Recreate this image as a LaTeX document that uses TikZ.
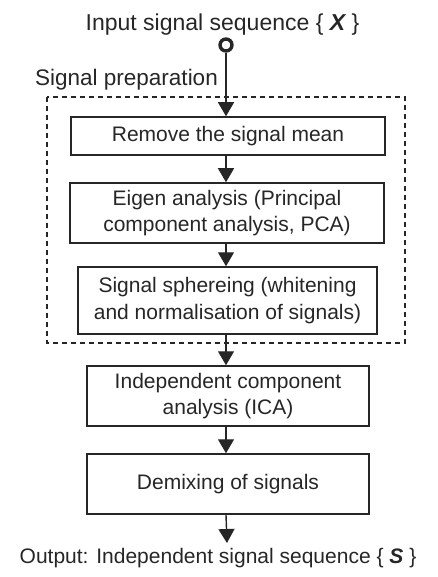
\documentclass[tikz,border=0pt]{standalone}
\usepackage{fontspec}
\setmainfont{Liberation Sans}
\usetikzlibrary{arrows.meta}
\definecolor{ink}{HTML}{262626}
\tikzset{
  box/.style={draw=ink, line width=1.5pt, text=ink, align=center, inner sep=0pt,
    font=\fontsize{21}{26.5}\selectfont},
  lbl/.style={text=ink, inner sep=0pt, font=\fontsize{21}{26}\selectfont},
  flow/.style={draw=ink, line width=1.4pt, -{Triangle[width=16pt,length=14pt]}},
  prep/.style={draw=ink, line width=1.2pt, dash pattern=on 5pt off 4pt}
}
\begin{document}
\begin{tikzpicture}[x=1pt,y=1pt]
\useasboundingbox (0,0) rectangle (438,-577);
\node[lbl, font=\fontsize{23}{26}\selectfont] (inp) at (222.5,-25) {Input signal sequence \{ {\bfseries\itshape X} \}};
\node[circle, draw=ink, line width=3.4pt, minimum size=12pt, inner sep=0pt] (src) at (226,-45) {};
\node[lbl, anchor=west, font=\fontsize{22.5}{26}\selectfont] (sp) at (35,-80) {Signal preparation};
\draw[prep] (47,-97) rectangle (405,-343);
\node[box, minimum width=314pt, minimum height=38pt] (b1) at (228,-136) {Remove the signal mean};
\node[box, minimum width=314pt, minimum height=60pt] (b2) at (227,-213) {Eigen analysis (Principal\\component analysis, PCA)};
\node[box, minimum width=299pt, minimum height=67pt] (b3) at (227.5,-300.5) {Signal sphereing (whitening\\and normalisation of signals)};
\node[box, minimum width=282pt, minimum height=60pt] (b4) at (228,-396) {Independent component\\analysis (ICA)};
\node[box, minimum width=282pt, minimum height=60pt] (b5) at (228,-484) {Demixing of signals};
\coordinate (end) at (227,-543);
\node[lbl] (out) at (218,-558) {Output: Independent signal sequence \{ {\bfseries\itshape S} \}};
\draw[flow] (src.south) -- (src.south |- b1.north);
\draw[flow] (b1.south -| src) -- (b2.north -| src);
\draw[flow] (b2.south -| src) -- (b3.north -| src);
\draw[flow] (b3.south -| src) -- (b4.north -| src);
\draw[flow] (b4.south -| src) -- (b5.north -| src);
\draw[flow] (b5.south -| src) -- (end);
\end{tikzpicture}
\end{document}
